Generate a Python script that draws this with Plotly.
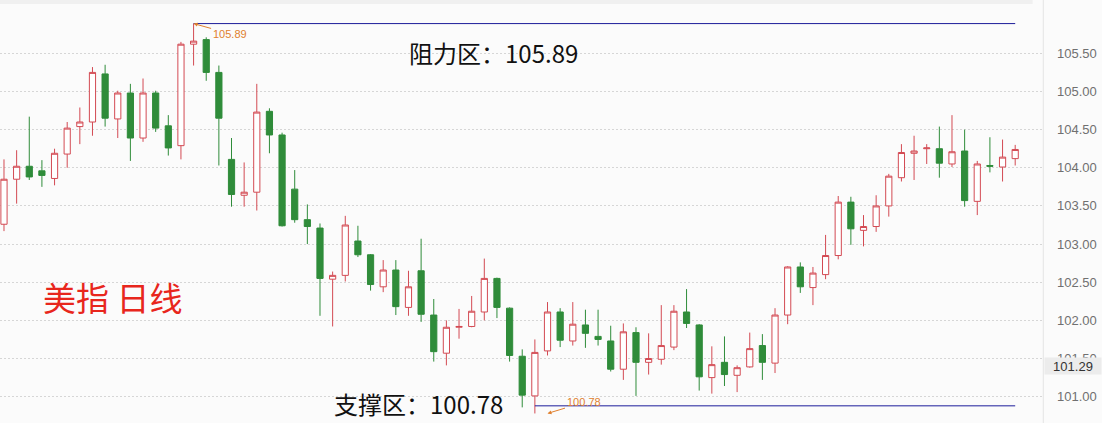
import plotly.graph_objects as go

# ---- data (US Dollar Index daily candles) ----
opens = [103.26, 103.85, 104.02, 103.96, 103.86, 104.18, 104.54, 104.60, 105.23, 104.64,
         104.98, 104.39, 104.98, 104.55, 104.29, 105.62, 105.68, 105.25, 104.11, 103.64,
         103.68, 104.74, 104.43, 103.72, 103.32, 103.21, 102.54, 102.59, 103.04, 102.86,
         102.44, 102.66, 102.17, 102.65, 102.07, 101.57, 101.91, 101.92, 102.11, 102.55,
         102.16, 101.53, 101.01, 101.60, 102.11, 101.73, 101.94, 101.79, 101.73, 101.36,
         101.84, 101.45, 101.49, 101.65, 102.11, 101.94, 101.25, 101.45, 101.28, 101.39,
         101.67, 101.44, 102.07, 102.70, 102.43, 102.60, 102.85, 103.55, 103.18, 103.23,
         103.50, 103.87, 104.19, 104.25, 104.25, 104.05, 104.22, 103.56, 104.03, 104.01,
         104.12]
highs = [104.11, 104.23, 104.67, 104.10, 104.25, 104.60, 104.79, 105.32, 105.35, 105.01,
         105.10, 105.17, 105.01, 104.69, 105.65, 105.89, 105.71, 105.34, 104.39, 104.07,
         105.10, 104.78, 104.46, 103.97, 103.52, 103.27, 102.64, 103.37, 103.24, 102.87,
         102.79, 102.79, 102.65, 103.07, 102.28, 102.00, 102.15, 102.32, 102.81, 102.56,
         102.17, 101.62, 101.75, 102.24, 102.16, 102.24, 102.14, 102.14, 101.93, 101.96,
         101.91, 101.83, 102.20, 102.20, 102.41, 101.95, 101.66, 101.79, 101.41, 101.84,
         101.82, 102.16, 102.71, 102.76, 102.70, 103.12, 103.63, 103.62, 103.38, 103.64,
         103.92, 104.31, 104.42, 104.31, 104.54, 104.69, 104.50, 104.09, 104.40, 104.37,
         104.30]
lows = [103.17, 103.53, 103.84, 103.75, 103.77, 104.00, 104.31, 104.42, 104.54, 104.39,
        104.09, 104.34, 104.47, 104.16, 104.11, 105.34, 105.14, 104.03, 103.49, 103.49,
        103.44, 104.19, 103.23, 103.28, 103.00, 102.06, 101.92, 102.51, 102.83, 102.39,
        102.37, 102.07, 102.06, 101.98, 101.46, 101.41, 101.76, 101.91, 102.00, 102.03,
        101.46, 100.86, 100.78, 101.54, 101.65, 101.67, 101.64, 101.67, 101.33, 101.22,
        101.01, 101.29, 101.42, 101.61, 101.90, 101.08, 101.04, 101.14, 101.06, 101.38,
        101.22, 101.31, 101.95, 102.36, 102.20, 102.54, 102.80, 102.99, 102.97, 103.16,
        103.36, 103.82, 103.84, 104.05, 103.87, 104.01, 103.49, 103.38, 103.94, 103.82,
        104.03]
closes = [103.85, 104.02, 103.88, 103.90, 104.19, 104.52, 104.60, 105.25, 104.65, 104.98,
          104.39, 104.98, 104.52, 104.26, 105.62, 105.66, 105.25, 104.65, 103.65, 103.68,
          104.73, 104.43, 103.24, 103.32, 103.23, 102.55, 102.59, 103.25, 102.86, 102.47,
          102.66, 102.18, 102.44, 102.08, 101.59, 101.91, 101.92, 102.12, 102.55, 102.17,
          101.54, 101.02, 101.58, 102.11, 101.74, 101.95, 101.83, 101.75, 101.36, 101.85,
          101.45, 101.50, 101.67, 102.12, 101.96, 101.26, 101.42, 101.29, 101.38, 101.63,
          101.45, 102.07, 102.70, 102.44, 102.62, 102.85, 103.55, 103.20, 103.23, 103.50,
          103.89, 104.20, 104.22, 104.26, 104.06, 104.21, 103.57, 104.05, 104.02, 104.14,
          104.24]
bars = list(range(len(opens)))

y_ticks = [101.0, 101.5, 102.0, 102.5, 103.0, 103.5, 104.0, 104.5, 105.0, 105.5]
y_tick_text = ["101.00", "101.50", "102.00", "102.50", "103.00", "103.50",
               "104.00", "104.50", "105.00", "105.50"]

resistance_value = 105.89
resistance_bar = 15
support_value = 100.78
support_bar = 42
support_line_level = 100.88
last_bar = len(opens) - 1
cursor_label = "101.29"
cursor_level = 101.40

title_text = "美指 日线"
resistance_text = "阻力区：105.89"
support_text = "支撑区：100.78"

RED = "#d34a53"
GREEN = "#2f8c3a"
BLUE = "#1c1c9a"
ORANGE = "#e0802e"
BG = "#fbfbfb"

fig = go.Figure()
fig.add_trace(go.Candlestick(
    x=bars, open=opens, high=highs, low=lows, close=closes,
    increasing=dict(line=dict(color=RED, width=1), fillcolor="#ffffff"),
    decreasing=dict(line=dict(color=GREEN, width=1), fillcolor=GREEN),
    whiskerwidth=0, showlegend=False, hoverinfo="skip",
))

# horizontal resistance / support lines
fig.add_shape(type="line", xref="x", yref="y", x0=resistance_bar, x1=last_bar,
              y0=resistance_value, y1=resistance_value, line=dict(color=BLUE, width=1))
fig.add_shape(type="line", xref="x", yref="y", x0=support_bar, x1=last_bar,
              y0=support_line_level, y1=support_line_level, line=dict(color=BLUE, width=1))
# right axis separator and top band
fig.add_shape(type="line", xref="paper", yref="paper", x0=1.0003, x1=1.0003, y0=0, y1=1,
              line=dict(color="#e4e4e4", width=1))
fig.add_shape(type="rect", xref="paper", yref="paper", x0=0, x1=0.99, y0=1 - 4 / 423, y1=1,
              line=dict(width=0), fillcolor="#f0f0f0", layer="below")

cjk = "Noto Sans CJK SC"
fig.add_annotation(text=title_text, xref="paper", yref="paper", x=0.039, y=0.298,
                   xanchor="left", yanchor="middle", showarrow=False,
                   font=dict(family=cjk, size=33, color="#e8261c"))
fig.add_annotation(text=resistance_text, xref="paper", yref="paper", x=0.390, y=0.877,
                   xanchor="left", yanchor="middle", showarrow=False,
                   font=dict(family=cjk, size=24, color="#111111"))
fig.add_annotation(text=support_text, xref="paper", yref="paper", x=0.318, y=0.047,
                   xanchor="left", yanchor="middle", showarrow=False,
                   font=dict(family=cjk, size=24, color="#111111"))
fig.add_annotation(text=f"{resistance_value:.2f}", x=resistance_bar, y=resistance_value,
                   xref="x", yref="y", ax=36, ay=10, showarrow=True, arrowhead=2,
                   arrowsize=0.8, arrowwidth=1, arrowcolor=ORANGE,
                   font=dict(family="Liberation Sans", size=11, color=ORANGE))
fig.add_annotation(text=f"{support_value:.2f}", x=support_bar + 1, y=support_value,
                   xref="x", yref="y", ax=36, ay=-11, showarrow=True, arrowhead=2,
                   arrowsize=0.8, arrowwidth=1, arrowcolor=ORANGE,
                   font=dict(family="Liberation Sans", size=11, color=ORANGE))
fig.add_annotation(text=cursor_label, xref="paper", yref="y", x=1.0288, y=cursor_level,
                   xanchor="center", yanchor="middle", showarrow=False,
                   bgcolor="#ececec", width=54, height=14,
                   font=dict(family="Liberation Sans", size=13, color="#333333"))

fig.update_layout(
    width=1102, height=423,
    margin=dict(l=0, r=59, t=0, b=0),
    paper_bgcolor=BG, plot_bgcolor=BG,
    xaxis=dict(range=[-0.316, 82.2], showgrid=False, zeroline=False,
               showticklabels=False, rangeslider=dict(visible=False), fixedrange=True),
    yaxis=dict(range=[100.655, 106.199], side="right", tickvals=y_ticks,
               ticktext=y_tick_text, showgrid=True, gridcolor="#d6d6d6",
               griddash="2px,2px", gridwidth=1, zeroline=False, ticks="",
               ticklabelstandoff=13,
               tickfont=dict(family="Liberation Sans", size=13, color="#707070")),
    showlegend=False,
)

fig.write_html("out.html", config={"displayModeBar": False},
               post_script="document.body.style.margin='0';document.body.style.overflow='hidden';")
